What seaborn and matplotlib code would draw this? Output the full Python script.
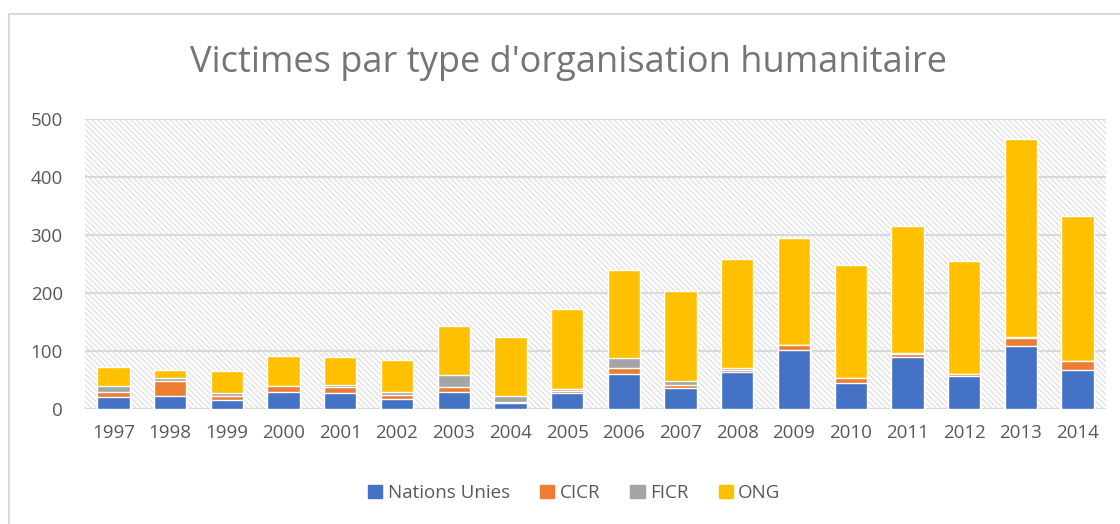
import numpy as np
import pandas as pd
import matplotlib
matplotlib.use('Agg')
import matplotlib.pyplot as plt
import seaborn as sns
from matplotlib.patches import Rectangle
from matplotlib.lines import Line2D

# Values
years = ['1997', '1998', '1999', '2000', '2001', '2002', '2003', '2004', '2005',
         '2006', '2007', '2008', '2009', '2010', '2011', '2012', '2013', '2014']
nations_unies = [20, 23, 15, 30, 27, 17, 30, 10, 27, 61, 37, 64, 102, 44, 90, 57, 109, 67]
cicr = [10, 26, 8, 9, 11, 7, 8, 2, 4, 10, 4, 4, 8, 9, 5, 3, 14, 15]
ficr = [10, 5, 4, 1, 3, 6, 20, 10, 4, 17, 8, 2, 1, 1, 1, 1, 1, 0]
ong = [32, 14, 38, 51, 48, 55, 85, 103, 137, 151, 155, 189, 184, 195, 219, 194, 341, 251]

series_names = ['Nations Unies', 'CICR', 'FICR', 'ONG']
colors = ['#4472C4', '#ED7D31', '#A5A5A5', '#FFC000']

df = pd.DataFrame({'year': years, 'Nations Unies': nations_unies, 'CICR': cicr,
                   'FICR': ficr, 'ONG': ong})

sns.set_style('white')
plt.rcParams['font.family'] = ['Open Sans', 'DejaVu Sans']
plt.rcParams['hatch.linewidth'] = 0.8
text_color = '#595959'

fig = plt.figure(figsize=(11.2, 5.24), dpi=100)
ax = fig.add_axes([85 / 1120, 1 - 409 / 524, (1106 - 85) / 1120, (409 - 119) / 524])

# hatched plot background
ax.add_patch(Rectangle((0, 0), 1, 1, transform=ax.transAxes, facecolor='none',
                       edgecolor='#DCDCDC', hatch='\\\\\\\\\\\\', lw=0, zorder=0.2))

# stacked bars: draw cumulative totals from the top down
cum = df[series_names].cumsum(axis=1)
for name, col in reversed(list(zip(series_names, colors))):
    sns.barplot(x=df['year'], y=cum[name], color=col, saturation=1, width=0.57,
                ax=ax, zorder=2)

ax.set_ylim(0, 500)
ax.set_yticks(range(0, 501, 100))
ax.yaxis.grid(True, color='#D9D9D9', lw=1.5, zorder=1)
ax.set_axisbelow(True)
for s in ax.spines.values():
    s.set_visible(False)
ax.axhline(0, color='#D9D9D9', lw=1.5, zorder=1)
ax.set_xlabel('')
ax.set_ylabel('')
ax.tick_params(axis='y', length=0, pad=16, labelsize=13.5, labelcolor=text_color)
ax.tick_params(axis='x', length=0, pad=11, labelsize=13.5, labelcolor=text_color)

fig.text(0.508, 1 - 63 / 524, "Victimes par type d'organisation humanitaire",
         ha='center', va='center', fontsize=26, color='#757575')

handles = [Rectangle((0, 0), 1, 1, color=c) for c in colors]
fig.legend(handles, series_names, loc='center', bbox_to_anchor=(0.513, 1 - 493 / 524),
           ncol=4, frameon=False, handlelength=0.75, handleheight=0.75,
           handletextpad=0.3, columnspacing=1.6, fontsize=13.5, labelcolor=text_color)

# chart frame (left and top edges)
fig.add_artist(Line2D([8.5 / 1120, 8.5 / 1120], [0, 1 - 14 / 524], color='#D9D9D9', lw=1.5,
                      transform=fig.transFigure))
fig.add_artist(Line2D([8.5 / 1120, 1], [1 - 14 / 524, 1 - 14 / 524], color='#D9D9D9', lw=1.5,
                      transform=fig.transFigure))

fig.savefig('out.png', dpi=100)
